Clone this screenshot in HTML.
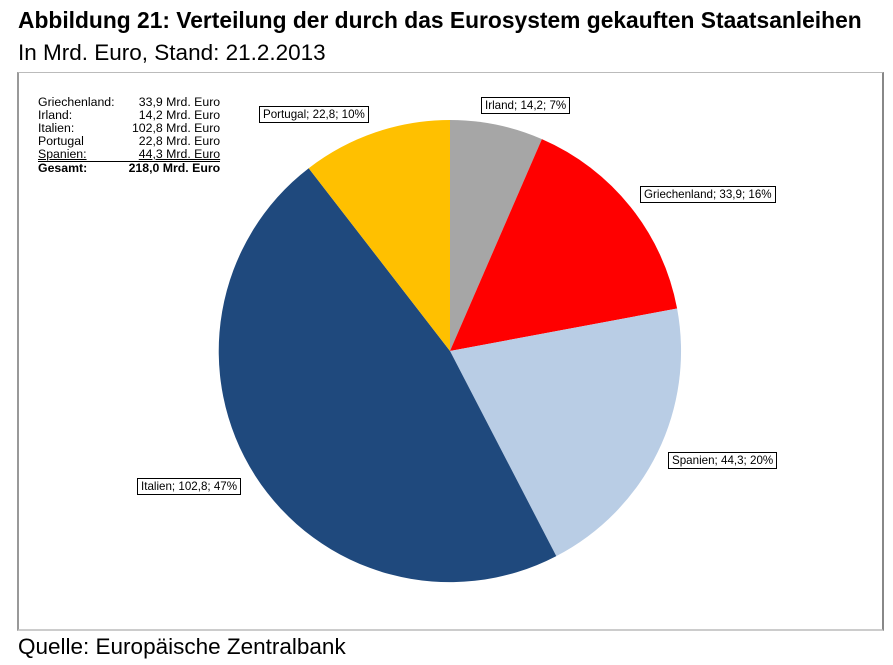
<!DOCTYPE html>
<html><head><meta charset="utf-8"><style>
body{margin:0;background:#fff;width:893px;height:665px;overflow:hidden;font-family:"Liberation Sans",Arial,sans-serif;position:relative}
.t{position:absolute;left:18px;top:7px;font-size:22.8px;font-weight:bold;color:#000;white-space:nowrap}
.s{position:absolute;left:18px;top:40px;font-size:22.5px;color:#000;white-space:nowrap}
.q{position:absolute;left:18px;top:634px;font-size:22.5px;color:#000;white-space:nowrap}
.frame{position:absolute;left:17px;top:72px;width:863px;height:556px;border:1px solid #bbb;border-left:2px solid #999;border-right:2px solid #888;border-bottom:2px solid #ccc}
.lab{position:absolute;font-size:11.6px;border:1px solid #000;background:#fff;padding:0 3px;line-height:15px;white-space:nowrap}
table{position:absolute;left:38px;top:96px;font-size:12.3px;border-collapse:collapse}
td{padding:0;line-height:13px}
td.r{text-align:right;padding-left:14px}
</style></head><body>
<div class="t">Abbildung 21: Verteilung der durch das Eurosystem gekauften Staatsanleihen</div>
<div class="s">In Mrd. Euro, Stand: 21.2.2013</div>
<div class="frame"></div>
<svg style="position:absolute;left:0;top:0" width="893" height="665">
<path d="M450,351 L450,120 A231,231 0 0 1 541.9,139.1 Z" fill="#a6a6a6"/>
<path d="M450,351 L541.9,139.1 A231,231 0 0 1 677.1,308.5 Z" fill="#ff0000"/>
<path d="M450,351 L677.1,308.5 A231,231 0 0 1 556.3,556.1 Z" fill="#b9cde5"/>
<path d="M450,351 L556.3,556.1 A231,231 0 0 1 308.7,168.2 Z" fill="#1f497d"/>
<path d="M450,351 L308.7,168.2 A231,231 0 0 1 450,120 Z" fill="#ffc000"/>
</svg>
<table>
<tr><td>Griechenland:</td><td class="r">33,9 Mrd. Euro</td></tr>
<tr><td>Irland:</td><td class="r">14,2 Mrd. Euro</td></tr>
<tr><td>Italien:</td><td class="r">102,8 Mrd. Euro</td></tr>
<tr><td>Portugal</td><td class="r">22,8 Mrd. Euro</td></tr>
<tr style="border-bottom:1px solid #000"><td style="text-decoration:underline">Spanien:</td><td class="r" style="text-decoration:underline">44,3 Mrd. Euro</td></tr>
<tr style="font-weight:bold"><td>Gesamt:</td><td class="r">218,0 Mrd. Euro</td></tr>
</table>
<div class="lab" style="left:259px;top:106px">Portugal; 22,8; 10%</div>
<div class="lab" style="left:481px;top:97px">Irland; 14,2; 7%</div>
<div class="lab" style="left:640px;top:186px">Griechenland; 33,9; 16%</div>
<div class="lab" style="left:668px;top:452px">Spanien; 44,3; 20%</div>
<div class="lab" style="left:137px;top:478px">Italien; 102,8; 47%</div>
<div class="q">Quelle: Europäische Zentralbank</div>
</body></html>
